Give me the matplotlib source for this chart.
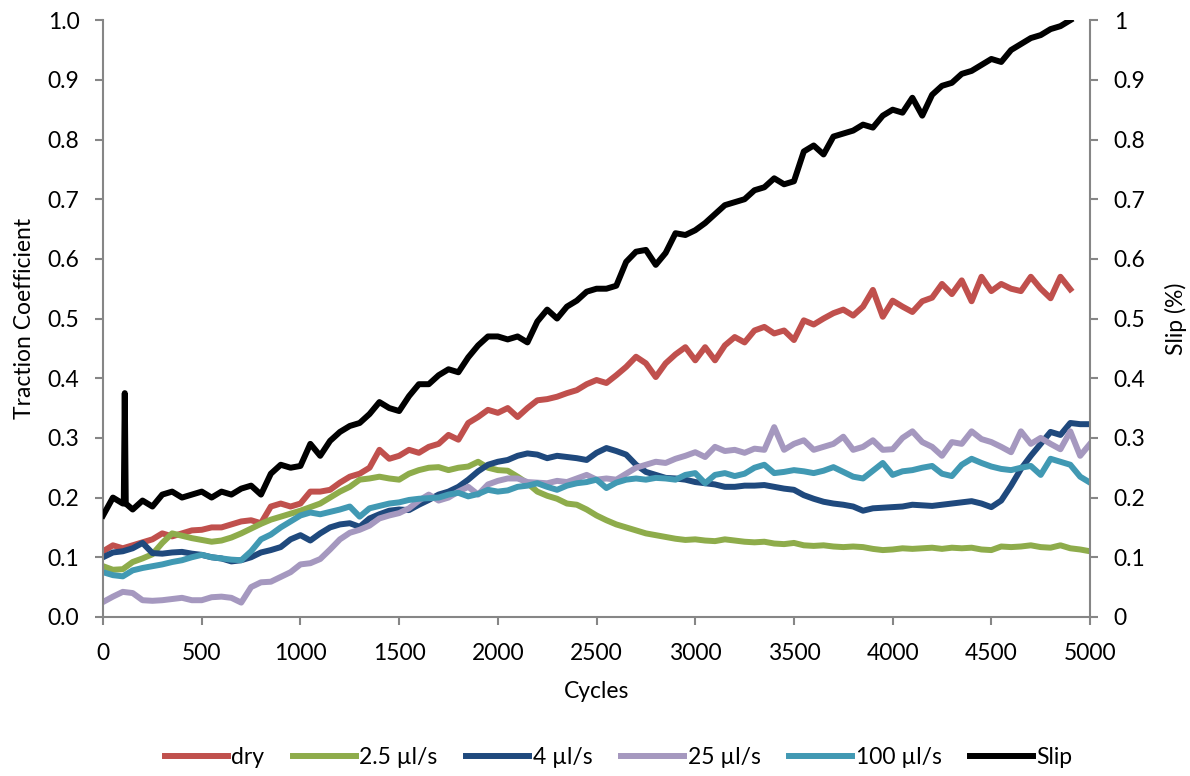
import numpy as np
import matplotlib.pyplot as plt

plt.rcParams['font.family'] = ['Lato', 'DejaVu Sans']

# Traction coefficient, logged every 50 cycles
cycles = np.arange(0, 5001, 50)
dry_cycles = np.arange(0, 4901, 50)

dry = [0.11, 0.12, 0.115, 0.12, 0.125, 0.13, 0.14, 0.135, 0.14, 0.145,
       0.146, 0.15, 0.15, 0.155, 0.16, 0.162, 0.157, 0.185, 0.19, 0.185,
       0.19, 0.21, 0.21, 0.213, 0.225, 0.235, 0.24, 0.25, 0.28, 0.265,
       0.27, 0.28, 0.275, 0.285, 0.29, 0.305, 0.297, 0.325, 0.335, 0.347,
       0.342, 0.35, 0.335, 0.35, 0.363, 0.365, 0.369, 0.375, 0.38, 0.39,
       0.397, 0.392, 0.405, 0.419, 0.436, 0.425, 0.402, 0.425, 0.44, 0.452,
       0.43, 0.452, 0.43, 0.455, 0.469, 0.46, 0.48, 0.486, 0.475, 0.48,
       0.464, 0.497, 0.49, 0.50, 0.509, 0.515, 0.505, 0.52, 0.548, 0.503,
       0.53, 0.52, 0.511, 0.529, 0.535, 0.558, 0.541, 0.564, 0.529, 0.57,
       0.546, 0.558, 0.55, 0.546, 0.57, 0.55, 0.534, 0.57, 0.549]

flow_2_5 = [0.085, 0.079, 0.08, 0.092, 0.098, 0.105, 0.124, 0.14, 0.136, 0.132,
            0.129, 0.126, 0.128, 0.133, 0.14, 0.148, 0.156, 0.163, 0.168, 0.173,
            0.178, 0.184, 0.19, 0.20, 0.21, 0.218, 0.23, 0.232, 0.235, 0.232,
            0.23, 0.24, 0.246, 0.25, 0.251, 0.246, 0.25, 0.252, 0.26, 0.25,
            0.246, 0.245, 0.235, 0.224, 0.21, 0.203, 0.198, 0.19, 0.188, 0.18,
            0.17, 0.162, 0.155, 0.15, 0.145, 0.14, 0.137, 0.134, 0.131, 0.129,
            0.13, 0.128, 0.127, 0.13, 0.128, 0.126, 0.125, 0.126, 0.123, 0.122,
            0.124, 0.12, 0.119, 0.12, 0.118, 0.117, 0.118, 0.117, 0.114, 0.112,
            0.113, 0.115, 0.114, 0.115, 0.116, 0.114, 0.116, 0.115, 0.116, 0.113,
            0.112, 0.118, 0.117, 0.118, 0.12, 0.117, 0.116, 0.12, 0.115, 0.113,
            0.11]

flow_4 = [0.10, 0.108, 0.11, 0.115, 0.124, 0.107, 0.106, 0.108, 0.109, 0.106,
          0.104, 0.10, 0.098, 0.093, 0.095, 0.10, 0.108, 0.112, 0.117, 0.13,
          0.137, 0.128, 0.14, 0.15, 0.155, 0.157, 0.151, 0.165, 0.172, 0.178,
          0.18, 0.179, 0.188, 0.196, 0.205, 0.21, 0.218, 0.23, 0.244, 0.255,
          0.26, 0.263, 0.27, 0.274, 0.272, 0.266, 0.27, 0.268, 0.266, 0.263,
          0.275, 0.283, 0.278, 0.272, 0.255, 0.243, 0.238, 0.233, 0.232, 0.23,
          0.226, 0.224, 0.222, 0.218, 0.218, 0.22, 0.22, 0.221, 0.218, 0.215,
          0.213, 0.204, 0.198, 0.193, 0.19, 0.188, 0.185, 0.178, 0.182, 0.183,
          0.184, 0.185, 0.188, 0.187, 0.186, 0.188, 0.19, 0.192, 0.194, 0.19,
          0.184, 0.195, 0.22, 0.248, 0.27, 0.29, 0.31, 0.305, 0.325, 0.323,
          0.323]

flow_25 = [0.025, 0.034, 0.042, 0.04, 0.028, 0.027, 0.028, 0.03, 0.032, 0.028,
           0.028, 0.033, 0.034, 0.032, 0.024, 0.05, 0.058, 0.059, 0.067, 0.075,
           0.088, 0.09, 0.097, 0.113, 0.13, 0.141, 0.146, 0.153, 0.165, 0.17,
           0.174, 0.182, 0.195, 0.205, 0.195, 0.2, 0.21, 0.218, 0.205, 0.222,
           0.228, 0.232, 0.232, 0.226, 0.225, 0.224, 0.228, 0.226, 0.232, 0.238,
           0.23, 0.232, 0.23, 0.24, 0.25, 0.255, 0.26, 0.258, 0.265, 0.27,
           0.276, 0.268, 0.285, 0.278, 0.28, 0.275, 0.282, 0.28, 0.318, 0.28,
           0.29, 0.296, 0.28, 0.285, 0.29, 0.302, 0.28, 0.285, 0.296, 0.28,
           0.281, 0.30, 0.311, 0.293, 0.285, 0.27, 0.293, 0.29, 0.311, 0.298,
           0.293, 0.285, 0.276, 0.311, 0.29, 0.30, 0.29, 0.281, 0.311, 0.27,
           0.29]

flow_100 = [0.075, 0.07, 0.068, 0.078, 0.082, 0.085, 0.088, 0.092, 0.095, 0.1,
            0.104, 0.1, 0.098, 0.096, 0.095, 0.11, 0.13, 0.138, 0.15, 0.16,
            0.17, 0.175, 0.172, 0.176, 0.18, 0.185, 0.168, 0.182, 0.186, 0.19,
            0.192, 0.196, 0.198, 0.199, 0.2, 0.205, 0.208, 0.202, 0.206, 0.213,
            0.21, 0.212, 0.218, 0.22, 0.224, 0.218, 0.213, 0.22, 0.224, 0.226,
            0.23, 0.216, 0.225, 0.23, 0.232, 0.23, 0.233, 0.232, 0.23, 0.238,
            0.241, 0.224, 0.238, 0.241, 0.236, 0.24, 0.25, 0.255, 0.241, 0.243,
            0.246, 0.244, 0.241, 0.245, 0.251, 0.243, 0.235, 0.232, 0.245, 0.258,
            0.238, 0.244, 0.246, 0.25, 0.253, 0.24, 0.236, 0.255, 0.265, 0.258,
            0.252, 0.248, 0.246, 0.25, 0.253, 0.238, 0.265, 0.26, 0.255, 0.235,
            0.225]

# Slip (%) on the secondary axis, with the short spike near the start
slip_cycles = np.r_[0, 50, 100, 105, 110, 115, np.arange(150, 4851, 50), 4900]
slip = [0.17, 0.20, 0.19, 0.19, 0.375, 0.19,
        0.18, 0.195, 0.185, 0.205, 0.21, 0.20, 0.205, 0.21, 0.20, 0.21,
        0.205, 0.215, 0.22, 0.205, 0.24, 0.255, 0.25, 0.253, 0.29, 0.27,
        0.295, 0.31, 0.32, 0.325, 0.34, 0.36, 0.35, 0.345, 0.37, 0.39,
        0.39, 0.405, 0.415, 0.41, 0.435, 0.455, 0.47, 0.47, 0.465, 0.47,
        0.46, 0.495, 0.515, 0.50, 0.52, 0.53, 0.545, 0.55, 0.55, 0.555,
        0.595, 0.612, 0.615, 0.59, 0.61, 0.643, 0.64, 0.648, 0.66, 0.675,
        0.69, 0.695, 0.70, 0.715, 0.72, 0.735, 0.725, 0.73, 0.78, 0.79,
        0.775, 0.805, 0.81, 0.815, 0.825, 0.82, 0.84, 0.85, 0.845, 0.87,
        0.84, 0.875, 0.89, 0.895, 0.91, 0.915, 0.925, 0.935, 0.93, 0.95,
        0.96, 0.97, 0.975, 0.985, 0.99, 1.0]

colors = {'dry': '#C0504D', '2.5': '#8EAC4B', '4': '#1F497D',
          '25': '#A598BF', '100': '#4199B3', 'slip': '#000000'}
lw = 4.3
fs = 16.5
axis_grey = '#868686'

fig, ax = plt.subplots(figsize=(11.9, 7.76), dpi=100)
fig.subplots_adjust(left=0.0866, right=0.916, top=0.974, bottom=0.205)

ax.plot(dry_cycles, dry, color=colors['dry'], lw=lw, label='dry')
ax.plot(cycles, flow_2_5, color=colors['2.5'], lw=lw, label='2.5 µl/s')
ax.plot(cycles, flow_4, color=colors['4'], lw=lw, label='4 µl/s')
ax.plot(cycles, flow_25, color=colors['25'], lw=lw, label='25 µl/s')
ax.plot(cycles, flow_100, color=colors['100'], lw=lw, label='100 µl/s')

ax2 = ax.twinx()
ax2.plot(slip_cycles, slip, color=colors['slip'], lw=lw, label='Slip')

ax.set_xlim(0, 5000)
ax.set_ylim(0, 1.0)
ax2.set_ylim(0, 1.0)
ax.set_xticks(np.arange(0, 5001, 500))
ax.set_yticks(np.arange(0, 1.01, 0.1))
ax.set_yticklabels([f'{v:.1f}' for v in np.arange(0, 1.01, 0.1)])
ax2.set_yticks(np.arange(0, 1.01, 0.1))
ax2.set_yticklabels(['0', '0.1', '0.2', '0.3', '0.4', '0.5', '0.6', '0.7', '0.8', '0.9', '1'])

for a in (ax, ax2):
    a.spines['top'].set_visible(False)
    for s in ('left', 'right', 'bottom'):
        a.spines[s].set_color(axis_grey)
        a.spines[s].set_linewidth(1.5)
    a.tick_params(axis='both', direction='out', length=6, width=1.5,
                  color=axis_grey, labelsize=fs, pad=11)
ax.tick_params(axis='x', pad=13)
ax.spines['right'].set_visible(False)
ax2.spines['left'].set_visible(False)
ax2.spines['bottom'].set_visible(False)

ax.set_xlabel('Cycles', fontsize=fs, labelpad=12)
ax.set_ylabel('Traction Coefficient', fontsize=fs, labelpad=9)
ax2.set_ylabel('Slip (%)', fontsize=fs, labelpad=14)

handles = ax.get_lines() + ax2.get_lines()
fig.legend(handles, [h.get_label() for h in handles], loc='lower center',
           ncol=6, frameon=False, fontsize=fs, handlelength=2.75,
           columnspacing=1.25, handletextpad=0.15, bbox_to_anchor=(0.52, -0.016))

fig.savefig('out.png', dpi=100)
